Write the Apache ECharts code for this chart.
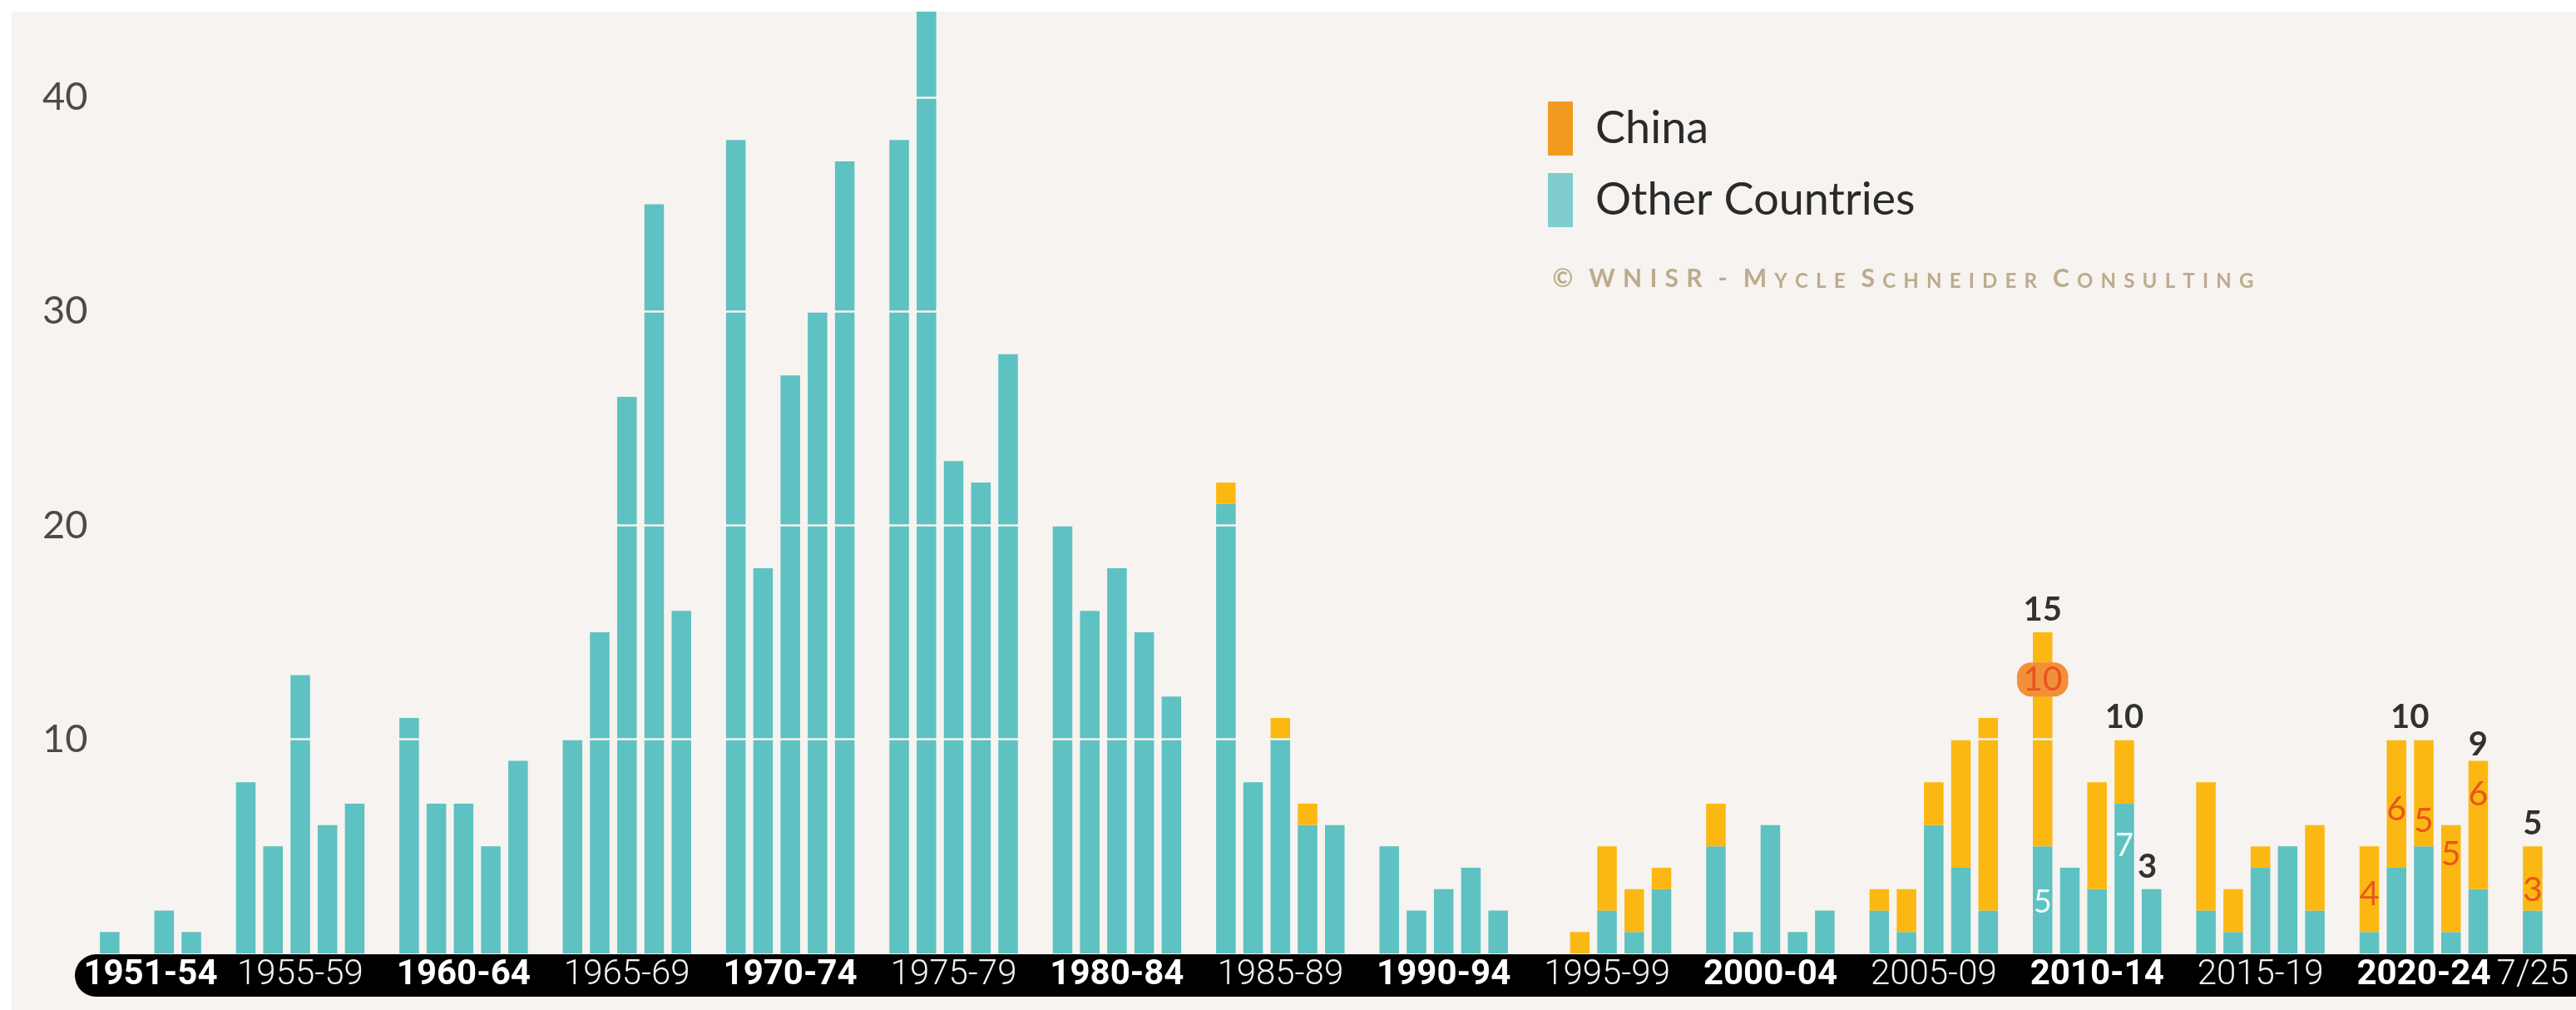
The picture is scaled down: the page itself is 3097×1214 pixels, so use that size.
<!DOCTYPE html>
<html>
<head>
<meta charset="utf-8">
<script src="https://cdn.jsdelivr.net/npm/echarts@6/dist/echarts.min.js"></script>
<style>
  html, body { margin: 0; padding: 0; background: #ffffff; }
  #chart { position: absolute; left: 14px; top: 14px; width: 3083px; height: 1200px; background: #f6f3f0; }
</style>
</head>
<body>
<div id="chart"></div>
<script>
// Reactor construction starts per year, China vs. other countries
const periodLabels    = ['1951-54','1955-59','1960-64','1965-69','1970-74','1975-79','1980-84','1985-89','1990-94','1995-99','2000-04','2005-09','2010-14','2015-19','2020-24','7/25'];
const periodFirstYear = [1951, 1955, 1960, 1965, 1970, 1975, 1980, 1985, 1990, 1995, 2000, 2005, 2010, 2015, 2020, 2025];
const periodLastYear  = [1954, 1959, 1964, 1969, 1974, 1979, 1984, 1989, 1994, 1999, 2004, 2009, 2014, 2019, 2024, 2025];

const years = [
  1951, 1952, 1953, 1954,
  1955, 1956, 1957, 1958, 1959,
  1960, 1961, 1962, 1963, 1964,
  1965, 1966, 1967, 1968, 1969,
  1970, 1971, 1972, 1973, 1974,
  1975, 1976, 1977, 1978, 1979,
  1980, 1981, 1982, 1983, 1984,
  1985, 1986, 1987, 1988, 1989,
  1990, 1991, 1992, 1993, 1994,
  1995, 1996, 1997, 1998, 1999,
  2000, 2001, 2002, 2003, 2004,
  2005, 2006, 2007, 2008, 2009,
  2010, 2011, 2012, 2013, 2014,
  2015, 2016, 2017, 2018, 2019,
  2020, 2021, 2022, 2023, 2024,
  2025
];

const otherCountries = [
  1, 0, 2, 1,
  8, 5, 13, 6, 7,
  11, 7, 7, 5, 9,
  10, 15, 26, 35, 16,
  38, 18, 27, 30, 37,
  38, 44, 23, 22, 28,
  20, 16, 18, 15, 12,
  21, 8, 10, 6, 6,
  5, 2, 3, 4, 2,
  0, 0, 2, 1, 3,
  5, 1, 6, 1, 2,
  2, 1, 6, 4, 2,
  5, 4, 3, 7, 3,
  2, 1, 4, 5, 2,
  1, 4, 5, 1, 3,
  2
];

const china = [
  0, 0, 0, 0,
  0, 0, 0, 0, 0,
  0, 0, 0, 0, 0,
  0, 0, 0, 0, 0,
  0, 0, 0, 0, 0,
  0, 0, 0, 0, 0,
  0, 0, 0, 0, 0,
  1, 0, 1, 1, 0,
  0, 0, 0, 0, 0,
  0, 1, 3, 2, 1,
  2, 0, 0, 0, 0,
  1, 2, 2, 6, 9,
  10, 0, 5, 3, 0,
  6, 2, 1, 0, 4,
  4, 6, 5, 5, 6,
  3
];

const yTicks = [10, 20, 30, 40];
const legendNames = ['China', 'Other Countries'];
const creditText = '\u00A9 WNISR - Mycle Schneider Consulting';

// Which bars carry value labels, with small vertical nudges (px) for readability
const chinaLabelNudge = { 2010: -72, 2020: 6, 2021: 7, 2022: 34, 2023: -29, 2024: -37, 2025: 14 };
const otherLabelNudge = { 2010: 3, 2013: -39 };
const totalLabelNudge = { 2010: [0, 0], 2013: [0, 0], 2014: [-5, 0], 2021: [16, 0], 2024: [0, 8], 2025: [0, 0] };
const highlightedChina = [2010];

// ---- layout: one slot per year, an empty slot after each period ----
const slotYears = [];
periodFirstYear.forEach((first, p) => {
  for (let y = first; y <= periodLastYear[p]; y++) slotYears.push(y);
  slotYears.push(null);
});
const valueOf = (arr, y) => arr[years.indexOf(y)];

// label axis works on half-slots so that period labels can sit between two bars
const nHalf = slotYears.length * 2 + 1;
const halfCats = Array.from({ length: nHalf }, (_, i) => String(i));
const labelAtHalf = {};
periodFirstYear.forEach((first, p) => {
  const idx = [];
  slotYears.forEach((y, i) => { if (y !== null && y >= first && y <= periodLastYear[p]) idx.push(i); });
  const center = idx.reduce((a, b) => a + b, 0) / idx.length;
  labelAtHalf[Math.round(center * 2 + 1)] = p;
});

const TEAL = '#5ec1c2';
const GOLD = '#fcb812';
const BAND_FONT = 'Roboto, sans-serif';
const BAND_SIZE = 42;

const otherData = slotYears.map(y => {
  if (y === null) return '-';
  const item = { value: valueOf(otherCountries, y) };
  if (y in otherLabelNudge) item.label = { show: true, offset: [0, otherLabelNudge[y]] };
  return item;
});

const chinaData = slotYears.map(y => {
  if (y === null) return '-';
  const item = { value: valueOf(china, y) };
  if (y in chinaLabelNudge) {
    item.label = { show: true, offset: [0, chinaLabelNudge[y]] };
    if (highlightedChina.includes(y)) {
      Object.assign(item.label, { backgroundColor: '#f2903a', borderRadius: 17, padding: [1, 7, -1, 7] });
    }
  }
  return item;
});

const totalData = slotYears.map(y => {
  if (y === null || !(y in totalLabelNudge)) return '-';
  return { value: valueOf(otherCountries, y) + valueOf(china, y), label: { offset: totalLabelNudge[y] } };
});

function smallCaps(text) {
  return text.split('').map(ch => {
    if (ch === ' ') return '{sp| }';
    const big = ch === ch.toUpperCase();
    return '{' + (big ? 'b' : 's') + '|' + ch.toUpperCase() + '}';
  }).join('');
}

const chart = echarts.init(document.getElementById('chart'), null, { renderer: 'canvas' });

chart.setOption({
  animation: false,
  backgroundColor: 'transparent',
  textStyle: { fontFamily: 'Lato, "Noto Sans", sans-serif' },
  grid: { left: 101.5, top: 0, width: 2985, height: 1132, containLabel: false },
  title: {
    text: smallCaps(creditText),
    left: 1848,
    top: 306,
    padding: 0,
    textStyle: {
      color: '#bcab8c',
      fontFamily: 'Lato',
      rich: {
        b:  { fontSize: 30, lineHeight: 30, verticalAlign: 'bottom', color: '#bcab8c', fontFamily: 'Lato', padding: [0, 4.6] },
        s:  { fontSize: 24, lineHeight: 24, verticalAlign: 'bottom', color: '#bcab8c', fontFamily: 'Lato', padding: [0, 4.6] },
        sp: { fontSize: 24, lineHeight: 24, verticalAlign: 'bottom', color: '#bcab8c', fontFamily: 'Lato', padding: [0, 2] }
      }
    }
  },
  legend: {
    orient: 'vertical',
    left: 1847,
    top: 108,
    padding: 0,
    itemWidth: 30,
    itemHeight: 65,
    itemGap: 21,
    icon: 'rect',
    selectedMode: false,
    textStyle: { fontFamily: 'Lato', fontSize: 54, color: '#2a2a2a', padding: [0, 0, 0, 22] },
    data: [
      { name: legendNames[0], itemStyle: { color: '#f39b21' } },
      { name: legendNames[1], itemStyle: { color: '#80cdcd' } }
    ]
  },
  xAxis: [
    {
      type: 'category',
      data: slotYears.map((y, i) => (y === null ? 'gap' + i : String(y))),
      boundaryGap: true,
      axisLine: { show: false },
      axisTick: { show: false },
      axisLabel: { show: false },
      splitLine: { show: false }
    },
    {
      type: 'category',
      data: halfCats,
      boundaryGap: false,
      position: 'bottom',
      offset: 26,
      axisLine: { show: true, lineStyle: { color: '#000000', width: 51 } },
      axisTick: { show: false },
      splitLine: { show: false },
      axisLabel: {
        interval: 0,
        margin: 0,
        verticalAlign: 'middle',
        color: '#ffffff',
        fontFamily: BAND_FONT,
        fontSize: BAND_SIZE,
        formatter: (value, index) => {
          const p = labelAtHalf[index];
          if (p === undefined) return '';
          return (p % 2 === 0 ? '{b|' : '{r|') + periodLabels[p] + '}';
        },
        rich: {
          b: { fontFamily: BAND_FONT, fontSize: BAND_SIZE, fontWeight: 'bold', color: '#ffffff' },
          r: { fontFamily: BAND_FONT, fontSize: BAND_SIZE, fontWeight: 300, color: '#f2f2f2' }
        }
      }
    }
  ],
  yAxis: {
    type: 'value',
    min: 0,
    max: 44,
    interval: 10,
    axisLine: { show: false },
    axisTick: { show: false },
    splitLine: { show: false },
    axisLabel: {
      margin: 10,
      fontFamily: 'Lato',
      fontWeight: 'normal',
      fontSize: 47,
      color: '#4a4a4a',
      formatter: v => (yTicks.includes(v) ? String(v) : '')
    }
  },
  series: [
    {
      name: legendNames[1],
      type: 'bar',
      stack: 'starts',
      barWidth: 23.5,
      itemStyle: { color: TEAL },
      data: otherData,
      label: {
        show: false,
        position: 'inside',
        fontFamily: 'Lato',
        fontSize: 38,
        color: '#f2fcfc'
      },
      z: 2
    },
    {
      name: legendNames[0],
      type: 'bar',
      stack: 'starts',
      barWidth: 23.5,
      itemStyle: { color: GOLD },
      data: chinaData,
      label: {
        show: false,
        position: 'inside',
        fontFamily: 'Lato',
        fontSize: 41,
        color: '#e8561c'
      },
      z: 2
    },
    {
      name: 'total',
      type: 'scatter',
      symbolSize: 0,
      itemStyle: { color: 'transparent' },
      data: totalData,
      label: {
        show: true,
        position: 'top',
        distance: 7,
        fontFamily: 'Lato',
        fontWeight: 'bold',
        fontSize: 40,
        color: '#000000',
        formatter: '{c}'
      },
      z: 10,
      markLine: {
        silent: true,
        symbol: 'none',
        label: { show: false },
        lineStyle: { color: '#f6f5f2', width: 2.5, type: 'solid' },
        data: yTicks.map(v => ({ yAxis: v }))
      }
    }
  ]
});
</script>
</body>
</html>
